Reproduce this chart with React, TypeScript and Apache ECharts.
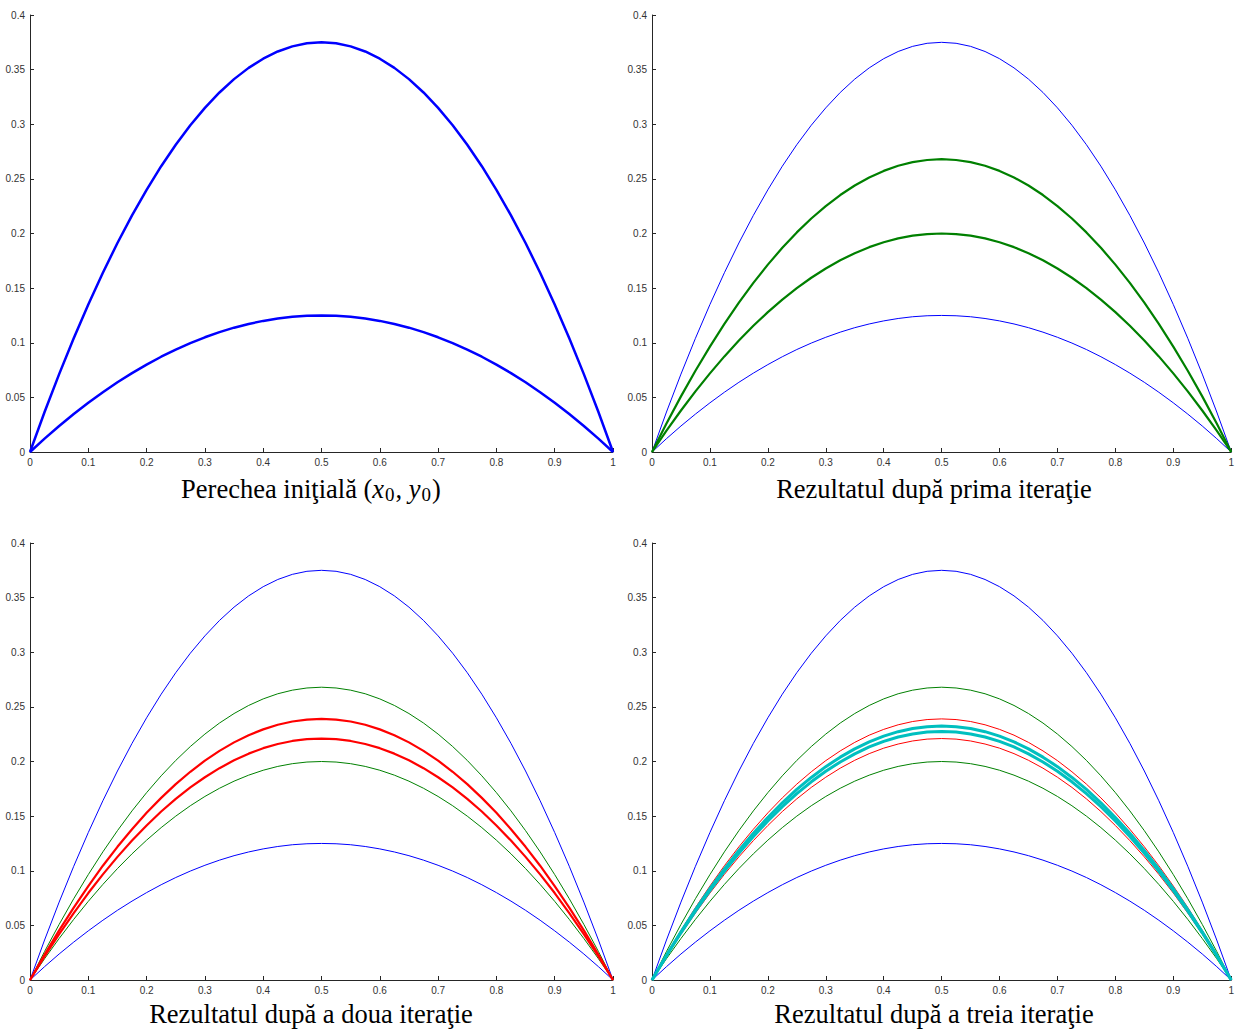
import React, { useEffect, useRef } from "react";
import * as echarts from "echarts";

const X = [0, 0.025, 0.05, 0.075, 0.1, 0.125, 0.15, 0.175, 0.2, 0.225, 0.25, 0.275, 0.3, 0.325, 0.35, 0.375, 0.4, 0.425, 0.45, 0.475, 0.5,
  0.525, 0.55, 0.575, 0.6, 0.625, 0.65, 0.675, 0.7, 0.725, 0.75, 0.775, 0.8, 0.825, 0.85, 0.875, 0.9, 0.925, 0.95, 0.975, 1];

const BLUE_HI = [0, 0.0366, 0.0713, 0.1041, 0.135, 0.1641, 0.1913, 0.2166, 0.24, 0.2616, 0.2813, 0.2991, 0.315, 0.3291, 0.3413, 0.3516, 0.36, 0.3666, 0.3713, 0.3741, 0.375,
  0.3741, 0.3713, 0.3666, 0.36, 0.3516, 0.3413, 0.3291, 0.315, 0.2991, 0.2813, 0.2616, 0.24, 0.2166, 0.1913, 0.1641, 0.135, 0.1041, 0.0713, 0.0366, 0];
const BLUE_LO = [0, 0.0122, 0.0238, 0.0347, 0.045, 0.0547, 0.0638, 0.0722, 0.08, 0.0872, 0.0938, 0.0997, 0.105, 0.1097, 0.1138, 0.1172, 0.12, 0.1222, 0.1238, 0.1247, 0.125,
  0.1247, 0.1238, 0.1222, 0.12, 0.1172, 0.1138, 0.1097, 0.105, 0.0997, 0.0938, 0.0872, 0.08, 0.0722, 0.0638, 0.0547, 0.045, 0.0347, 0.0238, 0.0122, 0];
const GREEN_HI = [0, 0.0261, 0.0509, 0.0744, 0.0965, 0.1173, 0.1367, 0.1548, 0.1715, 0.1869, 0.201, 0.2137, 0.2251, 0.2352, 0.2439, 0.2513, 0.2573, 0.262, 0.2653, 0.2673, 0.268,
  0.2673, 0.2653, 0.262, 0.2573, 0.2513, 0.2439, 0.2352, 0.2251, 0.2137, 0.201, 0.1869, 0.1715, 0.1548, 0.1367, 0.1173, 0.0965, 0.0744, 0.0509, 0.0261, 0];
const GREEN_LO = [0, 0.0195, 0.038, 0.0555, 0.072, 0.0875, 0.102, 0.1155, 0.128, 0.1395, 0.15, 0.1595, 0.168, 0.1755, 0.182, 0.1875, 0.192, 0.1955, 0.198, 0.1995, 0.2,
  0.1995, 0.198, 0.1955, 0.192, 0.1875, 0.182, 0.1755, 0.168, 0.1595, 0.15, 0.1395, 0.128, 0.1155, 0.102, 0.0875, 0.072, 0.0555, 0.038, 0.0195, 0];
const RED_HI = [0, 0.0233, 0.0454, 0.0663, 0.086, 0.1046, 0.1219, 0.138, 0.153, 0.1667, 0.1793, 0.1906, 0.2008, 0.2097, 0.2175, 0.2241, 0.2294, 0.2336, 0.2366, 0.2384, 0.239,
  0.2384, 0.2366, 0.2336, 0.2294, 0.2241, 0.2175, 0.2097, 0.2008, 0.1906, 0.1793, 0.1667, 0.153, 0.138, 0.1219, 0.1046, 0.086, 0.0663, 0.0454, 0.0233, 0];
const RED_LO = [0, 0.0216, 0.042, 0.0613, 0.0796, 0.0967, 0.1127, 0.1276, 0.1414, 0.1542, 0.1658, 0.1763, 0.1856, 0.1939, 0.2011, 0.2072, 0.2122, 0.216, 0.2188, 0.2205, 0.221,
  0.2205, 0.2188, 0.216, 0.2122, 0.2072, 0.2011, 0.1939, 0.1856, 0.1763, 0.1658, 0.1542, 0.1414, 0.1276, 0.1127, 0.0967, 0.0796, 0.0613, 0.042, 0.0216, 0];
const CYAN_HI = [0, 0.0227, 0.0442, 0.0645, 0.0837, 0.1017, 0.1186, 0.1343, 0.1488, 0.1622, 0.1744, 0.1854, 0.1953, 0.204, 0.2116, 0.218, 0.2232, 0.2273, 0.2302, 0.2319, 0.2325,
  0.2319, 0.2302, 0.2273, 0.2232, 0.218, 0.2116, 0.204, 0.1953, 0.1854, 0.1744, 0.1622, 0.1488, 0.1343, 0.1186, 0.1017, 0.0837, 0.0645, 0.0442, 0.0227, 0];
const CYAN_LO = [0, 0.0222, 0.0432, 0.0631, 0.0819, 0.0995, 0.116, 0.1314, 0.1456, 0.1587, 0.1706, 0.1814, 0.1911, 0.1996, 0.207, 0.2133, 0.2184, 0.2224, 0.2252, 0.2269, 0.2275,
  0.2269, 0.2252, 0.2224, 0.2184, 0.2133, 0.207, 0.1996, 0.1911, 0.1814, 0.1706, 0.1587, 0.1456, 0.1314, 0.116, 0.0995, 0.0819, 0.0631, 0.0432, 0.0222, 0];

const TITLES = [
  "Perechea iniţială",
  "Rezultatul după prima iteraţie",
  "Rezultatul după a doua iteraţie",
  "Rezultatul după a treia iteraţie",
];

const BLUE = "#0000ff";
const GREEN = "#008000";
const RED = "#ff0000";
const CYAN = "#00bfbf";

export default function App() {
  const ref = useRef<HTMLDivElement>(null);
  useEffect(() => {
    if (!ref.current) return;
    const chart = echarts.init(ref.current, undefined, { renderer: "svg" });
    const grids = [
      { left: 30, top: 15, width: 583, height: 437 },
      { left: 652, top: 15, width: 583, height: 437 },
      { left: 30, top: 543, width: 583, height: 437 },
      { left: 652, top: 543, width: 583, height: 437 },
    ];
    const axisCommon = {
      axisLine: { show: true, lineStyle: { color: "#262626", width: 1 } },
      axisTick: { show: true, inside: true, length: 4, lineStyle: { color: "#262626" } },
      axisLabel: { color: "#333", fontSize: 10, fontFamily: "Liberation Sans", margin: 5 },
      splitLine: { show: false },
    };
    const xAxes = grids.map((_, i) => ({
      type: "value",
      gridIndex: i,
      min: 0,
      max: 1,
      interval: 0.1,
      ...axisCommon,
    }));
    const yAxes = grids.map((_, i) => ({
      type: "value",
      gridIndex: i,
      min: 0,
      max: 0.4,
      interval: 0.05,
      ...axisCommon,
    }));
    const pts = (ys: number[]) => X.map((x, k) => [x, ys[k]]);
    const line = (g: number, ys: number[], color: string, width: number) => ({
      type: "line",
      xAxisIndex: g,
      yAxisIndex: g,
      data: pts(ys),
      smooth: false,
      showSymbol: false,
      symbol: "none",
      lineStyle: { color, width, join: "round" },
      silent: true,
    });
    const series = [
      line(0, BLUE_HI, BLUE, 2.5),
      line(0, BLUE_LO, BLUE, 2.5),
      line(1, BLUE_HI, BLUE, 1),
      line(1, BLUE_LO, BLUE, 1),
      line(1, GREEN_HI, GREEN, 2.2),
      line(1, GREEN_LO, GREEN, 2.2),
      line(2, BLUE_HI, BLUE, 1),
      line(2, BLUE_LO, BLUE, 1),
      line(2, GREEN_HI, GREEN, 1),
      line(2, GREEN_LO, GREEN, 1),
      line(2, RED_HI, RED, 2.2),
      line(2, RED_LO, RED, 2.2),
      line(3, BLUE_HI, BLUE, 1),
      line(3, BLUE_LO, BLUE, 1),
      line(3, GREEN_HI, GREEN, 1),
      line(3, GREEN_LO, GREEN, 1),
      line(3, RED_HI, RED, 1),
      line(3, RED_LO, RED, 1),
      line(3, CYAN_HI, CYAN, 3),
      line(3, CYAN_LO, CYAN, 3),
    ];
    const font = "Liberation Serif";
    const titlePos = [
      [311, 489],
      [934, 489],
      [311, 1014],
      [934, 1014],
    ];
    const rich = {
      n: { fontFamily: font, fontSize: 26.5, color: "#000" },
      i: { fontFamily: font, fontSize: 26.5, fontStyle: "italic", color: "#000" },
      s: { fontFamily: font, fontSize: 19, color: "#000", padding: [11, 1, 0, 1] },
    };
    const graphic = TITLES.map((t, i) => ({
      type: "text",
      x: titlePos[i][0],
      y: titlePos[i][1],
      silent: true,
      style: {
        text: i === 0 ? `{n|${t} (}{i|x}{s|0}{n|, }{i|y}{s|0}{n|)}` : `{n|${t}}`,
        rich,
        align: "center",
        verticalAlign: "middle",
        fill: "#000",
        font: `26.5px ${font}`,
      },
    }));
    chart.setOption({
      animation: false,
      backgroundColor: "#fff",
      grid: grids,
      xAxis: xAxes,
      yAxis: yAxes,
      series,
      graphic,
    });
    return () => chart.dispose();
  }, []);
  return (
    <div
      ref={ref}
      style={{ position: "absolute", left: 0, top: 0, width: 1237, height: 1030 }}
    />
  );
}
